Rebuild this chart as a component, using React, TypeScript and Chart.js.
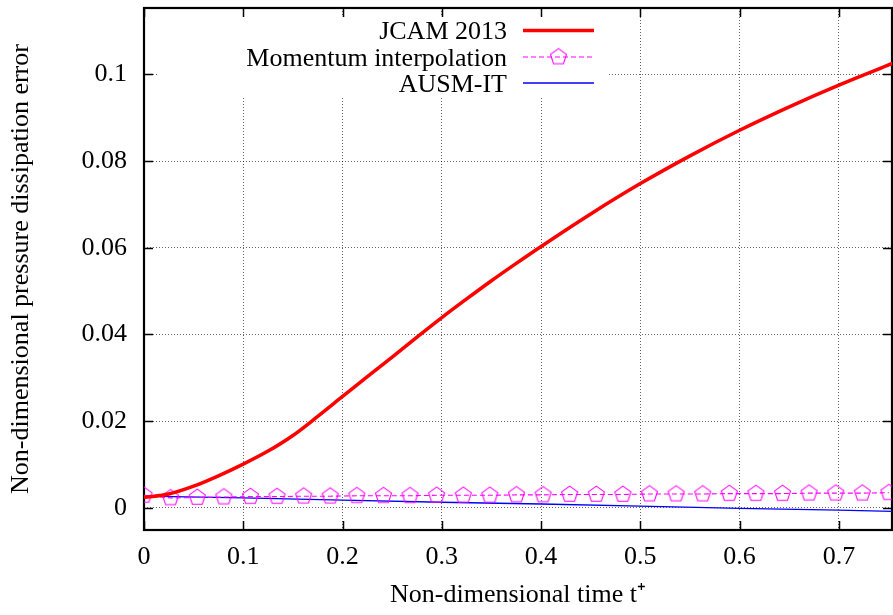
import React, { useEffect, useRef } from "react";
import { Chart, registerables } from "chart.js";

Chart.register(...registerables);

// ---- data ----
const jcamT = [0, 0.025, 0.05, 0.075, 0.1, 0.125, 0.15, 0.175, 0.2, 0.225, 0.25, 0.275, 0.3, 0.325, 0.35, 0.375, 0.4, 0.45, 0.5, 0.55, 0.6, 0.65, 0.7, 0.754];
const jcamErr = [0.0024, 0.0032, 0.005, 0.0074, 0.0101, 0.0131, 0.0167, 0.0211, 0.0257, 0.0303, 0.0348, 0.0394, 0.0439, 0.0482, 0.0524, 0.0564, 0.0603, 0.0678, 0.0748, 0.0812, 0.0871, 0.0925, 0.0975, 0.1025];

const momT = [0, 0.0268, 0.0536, 0.0804, 0.1072, 0.134, 0.1608, 0.1876, 0.2144, 0.2412, 0.268, 0.2948, 0.3216, 0.3484, 0.3752, 0.402, 0.4288, 0.4556, 0.4824, 0.5092, 0.536, 0.5628, 0.5896, 0.6164, 0.6432, 0.67, 0.6968, 0.7236, 0.7504];
const momErr = [0.0029, 0.0023, 0.0024, 0.0025, 0.0026, 0.0026, 0.0027, 0.0027, 0.0028, 0.0028, 0.0028, 0.0029, 0.0029, 0.0029, 0.003, 0.003, 0.0031, 0.0031, 0.0031, 0.0032, 0.0032, 0.0032, 0.0033, 0.0033, 0.0033, 0.0034, 0.0034, 0.0034, 0.0035];

const ausmT = [0, 0.1, 0.2, 0.3, 0.4, 0.5, 0.6, 0.7, 0.754];
const ausmErr = [0.0027, 0.0023, 0.0018, 0.0013, 0.0009, 0.0004, -0.0001, -0.0005, -0.0008];

const seriesLabels = ["JCAM 2013", "Momentum interpolation", "AUSM-IT"];
const xTitle = "Non-dimensional time t\u207A";
const yTitle = "Non-dimensional pressure dissipation error";

const FONT = "'Liberation Serif', 'Times New Roman', serif";
const FS = 26;

function makePentagon(color: string, r: number, lw: number): HTMLCanvasElement {
  const size = Math.ceil(r * 2 + lw * 2 + 2);
  const c = document.createElement("canvas");
  c.width = size;
  c.height = size;
  const g = c.getContext("2d")!;
  g.strokeStyle = color;
  g.lineWidth = lw;
  g.beginPath();
  for (let i = 0; i < 5; i++) {
    const a = -Math.PI / 2 + (i * 2 * Math.PI) / 5;
    const px = size / 2 + r * Math.cos(a);
    const py = size / 2 + r * Math.sin(a);
    if (i === 0) g.moveTo(px, py);
    else g.lineTo(px, py);
  }
  g.closePath();
  g.stroke();
  return c;
}

const framePlugin = {
  id: "gnuFrame",
  beforeDatasetsDraw(chart: any) {
    const { ctx, chartArea: a, scales } = chart;
    ctx.save();
    // opaque key box
    ctx.fillStyle = "#ffffff";
    ctx.fillRect(a.left + 14, a.top + 8, 450, 80);
    // inward ticks on all four sides
    ctx.strokeStyle = "#000";
    ctx.lineWidth = 1.5;
    ctx.beginPath();
    const tl = 9;
    for (const t of scales.x.ticks) {
      const px = Math.round(scales.x.getPixelForValue(t.value)) + 0.5;
      ctx.moveTo(px, a.bottom);
      ctx.lineTo(px, a.bottom - tl);
      ctx.moveTo(px, a.top);
      ctx.lineTo(px, a.top + tl);
    }
    for (const t of scales.y.ticks) {
      const py = Math.round(scales.y.getPixelForValue(t.value)) + 0.5;
      ctx.moveTo(a.left, py);
      ctx.lineTo(a.left + tl, py);
      ctx.moveTo(a.right, py);
      ctx.lineTo(a.right - tl, py);
    }
    ctx.stroke();
    ctx.lineWidth = 2.2;
    ctx.strokeRect(a.left, a.top, a.right - a.left, a.bottom - a.top);
    ctx.restore();
  },
  afterDatasetsDraw(chart: any) {
    const { ctx, chartArea: a } = chart;
    const ds = chart.data.datasets;
    ctx.save();
    ctx.font = `${FS}px ${FONT}`;
    ctx.textAlign = "right";
    ctx.textBaseline = "alphabetic";
    ctx.fillStyle = "#000";
    const textX = a.left + 363;
    const x0 = a.left + 379;
    const x1 = a.left + 450;
    const rows = [30.5, 57, 83];
    ds.forEach((d: any, i: number) => {
      const cy = a.top + rows[i] - 8;
      ctx.fillText(d.label, textX, cy + 8.5);
      ctx.strokeStyle = d.borderColor;
      ctx.lineWidth = d.borderWidth;
      ctx.setLineDash(d.borderDash || []);
      ctx.beginPath();
      ctx.moveTo(x0, cy);
      ctx.lineTo(x1, cy);
      ctx.stroke();
      ctx.setLineDash([]);
      if (d.pointStyle && typeof d.pointStyle !== "string") {
        const img = d.pointStyle as HTMLCanvasElement;
        ctx.drawImage(img, (x0 + x1) / 2 - img.width / 2, cy - img.height / 2);
      }
    });
    ctx.restore();
  },
};

export default function App() {
  const ref = useRef<HTMLCanvasElement>(null);
  useEffect(() => {
    document.body.style.margin = "0";
    const pent = makePentagon("#ff00ff", 8.4, 1.1);
    const chart = new Chart(ref.current!, {
      type: "line",
      data: {
        datasets: [
          {
            label: seriesLabels[0],
            data: jcamT.map((t, i) => ({ x: t, y: jcamErr[i] })),
            borderColor: "#ff0000",
            borderWidth: 3.5,
            pointRadius: 0,
            cubicInterpolationMode: "monotone",
            fill: false,
          },
          {
            label: seriesLabels[1],
            data: momT.map((t, i) => ({ x: t, y: momErr[i] })),
            borderColor: "#ff00ff",
            borderWidth: 1.1,
            borderDash: [5, 3],
            pointStyle: pent as any,
            pointRadius: 8,
            fill: false,
          },
          {
            label: seriesLabels[2],
            data: ausmT.map((t, i) => ({ x: t, y: ausmErr[i] })),
            borderColor: "#0000ff",
            borderWidth: 1.3,
            pointRadius: 0,
            fill: false,
          },
        ] as any,
      },
      options: {
        responsive: false,
        animation: false,
        events: [],
        layout: { autoPadding: false, padding: { left: 0, right: 1, top: 8, bottom: 2 } },
        plugins: { legend: { display: false }, tooltip: { enabled: false } },
        scales: {
          x: {
            type: "linear",
            min: 0,
            max: 0.7535,
            ticks: {
              stepSize: 0.1,
              includeBounds: false,
              font: { family: FONT, size: FS },
              color: "#000",
              padding: 12,
              maxRotation: 0,
              callback: (v: any) => {
                const n = Number(v);
                return Math.abs(n) < 1e-9 ? "0" : String(parseFloat(n.toFixed(2)));
              },
            },
            grid: { color: "rgba(0,0,0,0.6)", lineWidth: 1, drawTicks: false },
            border: { display: false, dash: [1, 2] },
            title: {
              display: true,
              text: xTitle,
              font: { family: FONT, size: FS },
              color: "#000",
              padding: { top: 0, bottom: 2 },
            },
            afterFit: (s: any) => {
              s.height = 83;
              s.paddingLeft = 0;
              s.paddingRight = 0;
            },
          },
          y: {
            type: "linear",
            min: -0.0051,
            max: 0.1153,
            ticks: {
              stepSize: 0.02,
              includeBounds: false,
              font: { family: FONT, size: FS },
              color: "#000",
              padding: 17,
              callback: (v: any) => {
                const n = Number(v);
                return Math.abs(n) < 1e-9 ? "0" : String(parseFloat(n.toFixed(3)));
              },
            },
            grid: { color: "rgba(0,0,0,0.6)", lineWidth: 1, drawTicks: false },
            border: { display: false, dash: [1, 2] },
            title: {
              display: true,
              text: yTitle,
              font: { family: FONT, size: FS },
              color: "#000",
              padding: { top: 6, bottom: 0 },
            },
            afterFit: (s: any) => {
              s.width = 144;
              s.paddingTop = 0;
              s.paddingBottom = 0;
            },
          },
        },
      } as any,
      plugins: [framePlugin],
    });
    return () => chart.destroy();
  }, []);
  return (
    <div style={{ position: "fixed", left: 0, top: 0, width: 893, height: 615, background: "#fff" }}>
      <canvas ref={ref} width={893} height={615} style={{ display: "block" }} />
    </div>
  );
}
